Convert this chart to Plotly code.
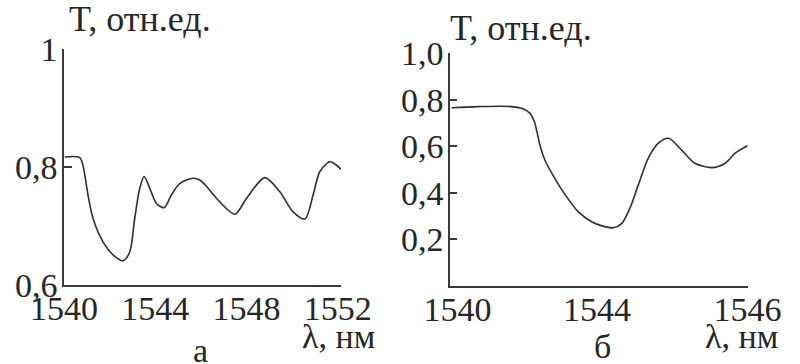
import plotly.graph_objects as go

# ---------- data ----------
# panel а
wl_a = [1540.03, 1540.69, 1540.83, 1541.05, 1541.27, 1541.71, 1542.15, 1542.59, 1542.88,
        1543.10, 1543.32, 1543.51, 1543.76, 1544.05, 1544.39, 1544.71, 1545.07, 1545.66,
        1545.95, 1546.25, 1546.68, 1547.49, 1548.00, 1548.80, 1549.46, 1550.04, 1550.56,
        1550.92, 1551.21, 1551.65, 1551.95, 1552.14]
T_a = [0.817, 0.816, 0.803, 0.753, 0.713, 0.673, 0.651, 0.641, 0.656,
       0.713, 0.764, 0.784, 0.764, 0.738, 0.731, 0.753, 0.772, 0.781,
       0.778, 0.767, 0.747, 0.720, 0.747, 0.782, 0.758, 0.724, 0.712,
       0.753, 0.792, 0.809, 0.803, 0.796]

# panel б
wl_b = [1540.03, 1540.57, 1541.24, 1541.48, 1541.61, 1541.70, 1541.75, 1541.81, 1541.91,
        1542.11, 1542.32, 1542.58, 1542.85, 1543.08, 1543.29, 1543.46, 1543.62, 1543.79,
        1543.99, 1544.19, 1544.40, 1544.66, 1544.93, 1545.27, 1545.54, 1545.74, 1545.99]
T_b = [0.765, 0.770, 0.770, 0.760, 0.741, 0.705, 0.662, 0.605, 0.541,
       0.462, 0.391, 0.319, 0.276, 0.257, 0.250, 0.269, 0.333, 0.433,
       0.548, 0.612, 0.634, 0.584, 0.527, 0.508, 0.527, 0.570, 0.602]

# tick labels
xtick_a_vals = [1540, 1544, 1548, 1552]
xtick_a_text = ["1540", "1544", "1548", "1552"]
ytick_a_vals = [0.6, 0.8, 1.0]
ytick_a_text = ["0,6", "0,8", "1"]

xtick_b_vals = [1540.15, 1542.96, 1545.99]
xtick_b_text = ["1540", "1544", "1546"]
ytick_b_vals = [0.2, 0.4, 0.6, 0.8, 1.0]
ytick_b_text = ["0,2", "0,4", "0,6", "0,8", "1,0"]

ylabel = "T, отн.ед."
xlabel = "λ, нм"
panel_a = "а"
panel_b = "б"

# ---------- figure ----------
W, H = 800, 364
FONT = "Liberation Serif"
INK = "#262626"
AX = "#3a3a3a"
FS = 34


def px(x):
    return x / W


def py(y):
    return 1 - y / H


fig = go.Figure()
fig.add_trace(go.Scatter(x=wl_a, y=T_a, mode="lines", xaxis="x", yaxis="y",
                         line=dict(color="#303030", width=1.6, shape="spline", smoothing=0.8),
                         showlegend=False, hoverinfo="skip"))
fig.add_trace(go.Scatter(x=wl_b, y=T_b, mode="lines", xaxis="x2", yaxis="y2",
                         line=dict(color="#303030", width=1.6, shape="spline", smoothing=0.8),
                         showlegend=False, hoverinfo="skip"))

dom_a_x = [px(64), px(341)]
dom_a_y = [py(285), py(49)]
dom_b_x = [px(450), px(748)]
dom_b_y = [py(286), py(53)]

tickfont = dict(family=FONT, size=FS, color=INK)

common_line = dict(showline=True, linecolor=AX, linewidth=1.6, showgrid=False,
                   zeroline=False, automargin=False)
overlay_common = dict(showticklabels=False, showline=False, showgrid=False,
                      zeroline=False, automargin=False, tickwidth=1.6, tickcolor=AX,
                      ticks="inside")

fig.update_layout(
    width=W, height=H,
    margin=dict(l=0, r=0, t=0, b=0, autoexpand=False),
    paper_bgcolor="white", plot_bgcolor="white",
    showlegend=False,
    # panel а axes
    xaxis=dict(domain=dom_a_x, range=[1540, 1552.14], anchor="y",
               tickvals=xtick_a_vals, ticktext=xtick_a_text, ticks="",
               tickfont=tickfont, ticklabelstandoff=-8, **common_line),
    yaxis=dict(domain=dom_a_y, range=[0.6, 1.0], anchor="x",
               tickvals=ytick_a_vals, ticktext=ytick_a_text, ticks="inside",
               ticklen=8, tickwidth=1.6, tickcolor=AX,
               tickfont=tickfont, ticklabelstandoff=-2, **common_line),
    xaxis3=dict(overlaying="x", anchor="y", range=[0, 7], dtick=1, tick0=0,
                ticklen=10, **overlay_common),
    xaxis5=dict(overlaying="x", anchor="y", range=[0, 7], tickvals=[7],
                ticklen=15, **overlay_common),
    yaxis5=dict(overlaying="y", anchor="x", range=[0.6, 1.0], tickvals=[1.0],
                ticklen=15, **overlay_common),
    # panel б axes
    xaxis2=dict(domain=dom_b_x, range=[1540, 1546], anchor="y2",
                tickvals=xtick_b_vals, ticktext=xtick_b_text, ticks="",
                tickfont=tickfont, ticklabelstandoff=-8, **common_line),
    yaxis2=dict(domain=dom_b_y, range=[0, 1.0], anchor="x2",
                tickvals=ytick_b_vals, ticktext=ytick_b_text, ticks="inside",
                ticklen=7, tickwidth=1.6, tickcolor=AX,
                tickfont=tickfont, ticklabelstandoff=-2, **common_line),
    xaxis4=dict(overlaying="x2", anchor="y2", range=[0, 7], dtick=1, tick0=0,
                ticklen=10, **overlay_common),
)

anns = [
    dict(text=ylabel, x=px(67), y=py(19), xanchor="left", yanchor="middle", size=36),
    dict(text=ylabel, x=px(448), y=py(28), xanchor="left", yanchor="middle", size=36),
    dict(text=xlabel, x=px(377), y=py(336), xanchor="right", yanchor="middle", size=FS),
    dict(text=xlabel, x=px(780), y=py(336), xanchor="right", yanchor="middle", size=FS),
    dict(text=panel_a, x=px(200), y=0, xanchor="center", yanchor="bottom", yshift=-7, size=FS),
    dict(text=panel_b, x=px(602), y=0, xanchor="center", yanchor="bottom", yshift=-3, size=FS),
]
for a in anns:
    s = a.pop("size")
    fig.add_annotation(xref="paper", yref="paper", showarrow=False,
                       font=dict(family=FONT, size=s, color=INK), **a)

fig.write_html("out.html")
